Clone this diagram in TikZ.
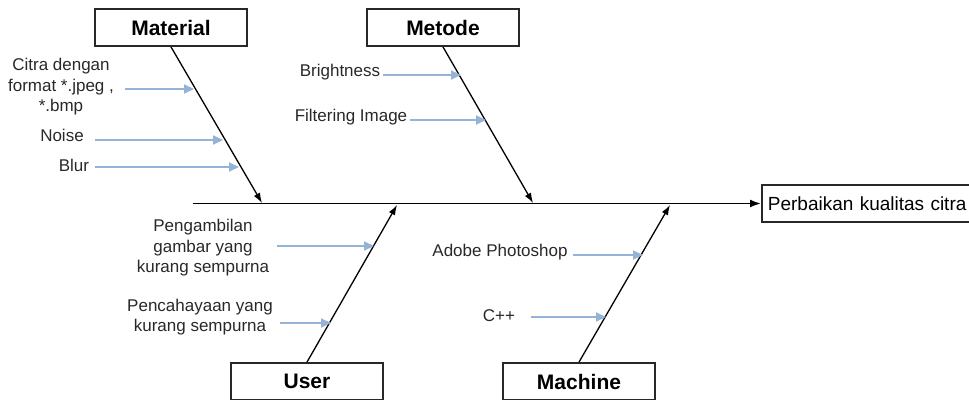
\documentclass[tikz,border=0pt]{standalone}
\usepackage{fontspec}
\setmainfont{Liberation Sans}
\usetikzlibrary{arrows.meta}
\definecolor{causeblue}{RGB}{149,179,215}
\definecolor{inkgray}{RGB}{40,40,40}
\tikzset{
  catbox/.style={draw=inkgray, line width=1.8pt, minimum width=152pt, minimum height=37pt,
    inner sep=0pt, font=\fontsize{21}{24}\selectfont\bfseries, text=black},
  effectbox/.style={draw=inkgray, line width=1.8pt, minimum height=37pt, anchor=west,
    inner xsep=6pt, inner ysep=0pt, text width=204pt, align=left,
    font=\fontsize{19}{22}\selectfont, text=black},
  lbl/.style={font=\fontsize{17}{20.5}\selectfont, text=inkgray, align=center, inner sep=0pt},
  spine/.style={draw=black, line width=1.8pt, -{Latex[length=11pt,width=8pt]}},
  bone/.style={draw=black, line width=1.3pt, -{Latex[length=10pt,width=7pt]}},
  cause/.style={draw=causeblue, line width=2pt, -{Triangle[length=10pt,width=9pt]}}
}
\begin{document}
\begin{tikzpicture}[x=1pt,y=-1pt]
\useasboundingbox (0,0) rectangle (969,399);

% category boxes
\node[catbox] (material) at (171,27.5) {Material};
\node[catbox] (metode)   at (443,27.5) {Metode};
\node[catbox] (user)     at (307,381.5) {User};
\node[catbox] (machine)  at (579,381.5) {Machine};

% effect box (runs past the right edge of the page)
\node[effectbox] (effect) at (761,203.5) {Perbaikan kualitas citra};

% spine
\coordinate (tail) at (193,203.5);
\draw[spine] (tail) -- (effect.west);

% bone end points on the spine
\coordinate (mattip) at (262,203);
\coordinate (mettip) at (533,203);
\coordinate (usetip) at (397,205);
\coordinate (mactip) at (670,205);

\draw[bone] (material.south) -- (mattip);
\draw[bone] (metode.south) -- (mettip);
\draw[bone] (user.north) -- (usetip);
\draw[bone] (machine.north) -- (mactip);

% causes: Material
\node[lbl] (citra) at (61,87) {Citra dengan\\format *.jpeg ,\\*.bmp};
\node[lbl] (noise) at (62,135) {Noise};
\node[lbl] (blur)  at (74,165) {Blur};
\coordinate (citraA) at (125,89);  \coordinate (citraB) at (194,89);
\coordinate (noiseA) at (95,140);  \coordinate (noiseB) at (223,140);
\coordinate (blurA)  at (95,167);  \coordinate (blurB)  at (239,167);
\draw[cause] (citraA) -- (citraB);
\draw[cause] (noiseA) -- (noiseB);
\draw[cause] (blurA) -- (blurB);

% causes: Metode
\node[lbl] (bright) at (340,72) {Brightness};
\node[lbl] (filter) at (351,117) {Filtering Image};
\coordinate (brightA) at (383,75);  \coordinate (brightB) at (461,75);
\coordinate (filterA) at (410,120); \coordinate (filterB) at (486,120);
\draw[cause] (brightA) -- (brightB);
\draw[cause] (filterA) -- (filterB);

% causes: User
\node[lbl] (ambil)  at (203,248) {Pengambilan\\gambar yang\\kurang sempurna};
\node[lbl] (cahaya) at (200,317) {Pencahayaan yang\\kurang sempurna};
\coordinate (ambilA)  at (277,246); \coordinate (ambilB)  at (374,246);
\coordinate (cahayaA) at (280,323); \coordinate (cahayaB) at (331,323);
\draw[cause] (ambilA) -- (ambilB);
\draw[cause] (cahayaA) -- (cahayaB);

% causes: Machine
\node[lbl] (adobe) at (500,252) {Adobe Photoshop};
\node[lbl] (cpp)   at (499,316) {C++};
\coordinate (adobeA) at (573,255); \coordinate (adobeB) at (643,255);
\coordinate (cppA)   at (531,317); \coordinate (cppB)   at (606,317);
\draw[cause] (adobeA) -- (adobeB);
\draw[cause] (cppA) -- (cppB);
\end{tikzpicture}
\end{document}
